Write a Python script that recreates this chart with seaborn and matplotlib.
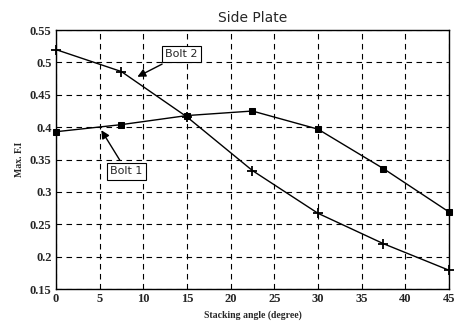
import matplotlib
matplotlib.use("Agg")
import matplotlib.pyplot as plt
import seaborn as sns
import pandas as pd

angles = [0, 7.5, 15, 22.5, 30, 37.5, 45]
bolt1 = [0.393, 0.404, 0.418, 0.425, 0.397, 0.336, 0.269]
bolt2 = [0.520, 0.486, 0.416, 0.333, 0.267, 0.220, 0.179]
xticks = [0, 5, 10, 15, 20, 25, 30, 35, 40, 45]
yticks = [0.15, 0.2, 0.25, 0.3, 0.35, 0.4, 0.45, 0.5, 0.55]

sns.set_theme(style="white")
plt.rcParams['font.family'] = ['DejaVu Sans']

df = pd.concat([
    pd.DataFrame({"angle": angles, "fi": bolt1, "bolt": "Bolt 1"}),
    pd.DataFrame({"angle": angles, "fi": bolt2, "bolt": "Bolt 2"}),
])

fig = plt.figure(figsize=(4.54, 3.24), dpi=100)
ax = fig.add_axes([0.123, 0.108, 0.866, 0.799])

sns.lineplot(data=df[df.bolt == "Bolt 1"], x="angle", y="fi", ax=ax, color="black",
             marker="s", markersize=5, markeredgecolor="black", linewidth=1,
             legend=False, clip_on=False)
sns.lineplot(data=df[df.bolt == "Bolt 2"], x="angle", y="fi", ax=ax, color="black",
             marker="+", markersize=7, markeredgewidth=1.3, markeredgecolor="black",
             linewidth=1, legend=False, clip_on=False)

ax.set_xlim(0, 45)
ax.set_ylim(0.15, 0.55)
ax.set_xticks(xticks)
ax.set_yticks(yticks)
ax.set_xticklabels([str(t) for t in xticks], family="Liberation Serif", fontweight="bold", fontsize=9)
ax.set_yticklabels([f"{t:g}" for t in yticks], family="Liberation Serif", fontweight="bold", fontsize=9)
ax.grid(True, color="black", linestyle=(0, (5, 4)), linewidth=0.8)
for s in ax.spines.values():
    s.set_color("black")
    s.set_linewidth(1)
ax.tick_params(length=0, pad=3)

ax.set_title("Side Plate", fontsize=10, pad=6)
ax.set_xlabel("Stacking angle (degree)", family="Liberation Serif", fontweight="bold", fontsize=7)
ax.set_ylabel("Max. F.I", family="Liberation Serif", fontweight="bold", fontsize=7)

box = dict(boxstyle="square,pad=0.3", fc="white", ec="black", lw=0.8)
arrow = dict(arrowstyle="-|>", color="black", lw=1, mutation_scale=12)
ax.annotate("Bolt 2", xy=(9.05, 0.476), xytext=(14.4, 0.513), fontsize=8,
            ha="center", va="center", bbox=box, arrowprops=arrow)
ax.annotate("Bolt 1", xy=(5.04, 0.399), xytext=(8.1, 0.332), fontsize=8,
            ha="center", va="center", bbox=box, arrowprops=arrow)

fig.savefig("out.png", dpi=100)
